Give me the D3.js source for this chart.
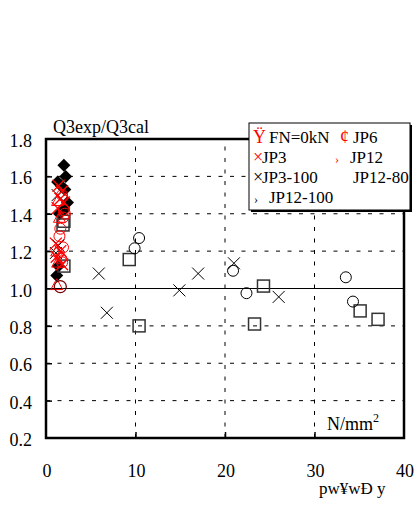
<!DOCTYPE html>
<html><head><meta charset="utf-8">
<script src="https://cdn.jsdelivr.net/npm/d3@7/dist/d3.min.js"></script>
<style>body{margin:0;background:#fff}svg{display:block}</style>
</head><body><div id="c"></div>
<script>
const xTicks=[0,10,20,30,40];
const yTicks=[0.2,0.4,0.6,0.8,1.0,1.2,1.4,1.6,1.8];
const yTickLabels=["0.2","0.4","0.6","0.8","1.0","1.2","1.4","1.6","1.8"];
// series (x = stress, y = Q3exp/Q3cal)
const diamonds=[[2.0,1.66],[2.2,1.60],[1.3,1.57],[2.1,1.53],[1.7,1.55],[2.4,1.46],[2.0,1.42],[1.5,1.40],[1.2,1.07],[1.4,1.12]];
const redCross=[[1.4,1.55],[1.8,1.52],[1.6,1.48],[2.0,1.46],[1.3,1.43],[1.1,1.24],[1.6,1.20],[1.2,1.17],[1.8,1.13]];
const redCircle=[[1.8,1.50],[2.0,1.42],[1.9,1.38],[1.6,1.32],[1.5,1.28],[1.9,1.22],[1.7,1.16],[1.4,1.19],[1.8,1.14],[2.1,1.40]];
const redTri=[[1.3,1.47],[1.5,1.38],[1.2,1.20],[1.3,1.14],[1.2,1.02]];
const darkRedCircle=[[1.6,1.01]];
const jp3_100=[[5.9,1.08],[6.8,0.87],[14.9,0.99],[17.0,1.08],[21.0,1.135],[26.0,0.955],[1.3,1.50],[1.1,1.19],[1.4,1.23]];
const jp12_80=[[10.4,1.27],[9.9,1.215],[20.9,1.095],[22.4,0.975],[33.5,1.06],[34.3,0.93]];
const jp12_100=[[9.3,1.155],[10.4,0.80],[24.3,1.013],[23.3,0.81],[35.1,0.88],[37.1,0.835],[2.0,1.36],[1.9,1.34],[2.0,1.12]];

const W=416,H=506;
const FONT="'Liberation Serif', 'Times New Roman', Times, serif";
const svg=d3.select("#c").append("svg").attr("width",W).attr("height",H).attr("font-family",FONT);
const x=d3.scaleLinear().domain([0,40]).range([46,404]);
const y=d3.scaleLinear().domain([0.2,1.8]).range([438,139]);

// grid
const g=svg.append("g");
g.selectAll("line.h").data(yTicks.filter(v=>v>0.25&&v<1.75)).enter().append("line")
 .attr("x1",x(0)).attr("x2",x(40)).attr("y1",d=>y(d)).attr("y2",d=>y(d))
 .attr("stroke","#000").attr("stroke-width",1)
 .attr("stroke-dasharray",d=>Math.abs(d-1)<1e-6?null:"4,7.5");
g.selectAll("line.v").data(xTicks.filter(v=>v>0&&v<40)).enter().append("line")
 .attr("y1",y(0.2)).attr("y2",y(1.8)).attr("x1",d=>x(d)).attr("x2",d=>x(d))
 .attr("stroke","#000").attr("stroke-width",1).attr("stroke-dasharray","4,7.5");

// axes (inward ticks)
const ax=d3.axisTop(x).tickValues(xTicks.slice(1,-1)).tickSize(6).tickFormat("");
svg.append("g").attr("transform",`translate(0,${y(0.2)})`).call(ax).call(s=>s.select(".domain").remove()).selectAll("line").attr("stroke-width",1.5);
const ay=d3.axisRight(y).tickValues(yTicks.slice(1,-1)).tickSize(6).tickFormat("");
svg.append("g").attr("transform",`translate(${x(0)},0)`).call(ay).call(s=>s.select(".domain").remove()).selectAll("line").attr("stroke-width",1.5);

// tick labels
svg.selectAll("text.yl").data(yTicks).enter().append("text")
 .attr("font-family",FONT)
 .attr("x",32).attr("y",(d)=>y(d)+8).attr("text-anchor","end").attr("font-size",18)
 .text((d,i)=>yTickLabels[i]);
svg.selectAll("text.xl").data(xTicks).enter().append("text")
 .attr("font-family",FONT)
 .attr("x",d=>x(d)+1).attr("y",477).attr("text-anchor","middle").attr("font-size",18)
 .text(d=>d);

// markers
const P=svg.append("g");
function crosses(data,color,s,w){
  data.forEach(d=>{const cx=x(d[0]),cy=y(d[1]);
    P.append("path").attr("d",`M${cx-s},${cy-s}L${cx+s},${cy+s}M${cx-s},${cy+s}L${cx+s},${cy-s}`)
     .attr("stroke",color).attr("stroke-width",w).attr("fill","none");});
}
function circles(data,color,r,w){
  P.selectAll(null).data(data).enter().append("circle").attr("cx",d=>x(d[0])).attr("cy",d=>y(d[1]))
   .attr("r",r).attr("fill","none").attr("stroke",color).attr("stroke-width",w);
}
function squares(data,color,s,w){
  P.selectAll(null).data(data).enter().append("rect").attr("x",d=>x(d[0])-s).attr("y",d=>y(d[1])-s)
   .attr("width",2*s).attr("height",2*s).attr("fill","none").attr("stroke",color).attr("stroke-width",w);
}
P.selectAll(null).data(diamonds).enter().append("path")
 .attr("d",d=>{const cx=x(d[0]),cy=y(d[1]),s=6.5;return `M${cx},${cy-s}L${cx+s},${cy}L${cx},${cy+s}L${cx-s},${cy}Z`;})
 .attr("fill","#000");
squares(jp12_100,"#333",6,1.5);
circles(jp12_80,"#000",5.5,1);
crosses(jp3_100,"#000",6,1);
circles(redCircle,"#f00",5.5,1);
crosses(redCross,"#f00",6,1.3);
P.selectAll(null).data(redTri).enter().append("path")
 .attr("d",d=>{const cx=x(d[0]),cy=y(d[1]),s=6;return `M${cx},${cy-s}L${cx+s},${cy+s*0.8}L${cx-s},${cy+s*0.8}Z`;})
 .attr("fill","none").attr("stroke","#f00").attr("stroke-width",1);
circles(darkRedCircle,"#700",6,1.3);

// frame
svg.append("rect").attr("x",x(0)).attr("y",y(1.8)).attr("width",x(40)-x(0)).attr("height",y(0.2)-y(1.8))
 .attr("fill","none").attr("stroke","#000").attr("stroke-width",2.5);

// titles
svg.append("text").attr("font-family",FONT).attr("x",53).attr("y",133).attr("font-size",18).text("Q3exp/Q3cal");
const nm=svg.append("text").attr("font-family",FONT).attr("x",327).attr("y",430).attr("font-size",18);
nm.append("tspan").text("N/mm");
nm.append("tspan").attr("font-size",12).attr("dy",-8).text("2");
svg.append("text").attr("font-family",FONT).attr("x",319).attr("y",494).attr("font-size",17).text("pw¥wĐ y");

// legend
const L=svg.append("g");
L.append("rect").attr("x",251).attr("y",125).attr("width",161).attr("height",87).attr("fill","#000");
L.append("rect").attr("x",249).attr("y",123).attr("width",161).attr("height",87).attr("fill","#fff").attr("stroke","#000").attr("stroke-width",1);
const legItems=[
 {sym:"Ÿ",sc:"#f00",sx:253,tx:269,t:"FN=0kN",y:143},
 {sym:"¢",sc:"#f00",sx:340,tx:353,t:"JP6",y:143},
 {sym:"×",sc:"#f00",sx:253,tx:262,t:"JP3",y:163},
 {sym:"›",sc:"#f00",sx:335,tx:350,t:"JP12",y:163},
 {sym:"×",sc:"#000",sx:253,tx:262,t:"JP3-100",y:183},
 {sym:"",sc:"#000",sx:340,tx:353,t:"JP12-80",y:183},
 {sym:"›",sc:"#000",sx:254,tx:269,t:"JP12-100",y:203}
];
legItems.forEach(d=>{
  if(d.sym) L.append("text").attr("font-family",FONT).attr("x",d.sx).attr("y",d.y).attr("font-size",d.sym==="›"?12:18).attr("fill",d.sc).text(d.sym);
  L.append("text").attr("font-family",FONT).attr("x",d.tx).attr("y",d.y).attr("font-size",17).attr("fill","#000").text(d.t);
});
</script></body></html>
